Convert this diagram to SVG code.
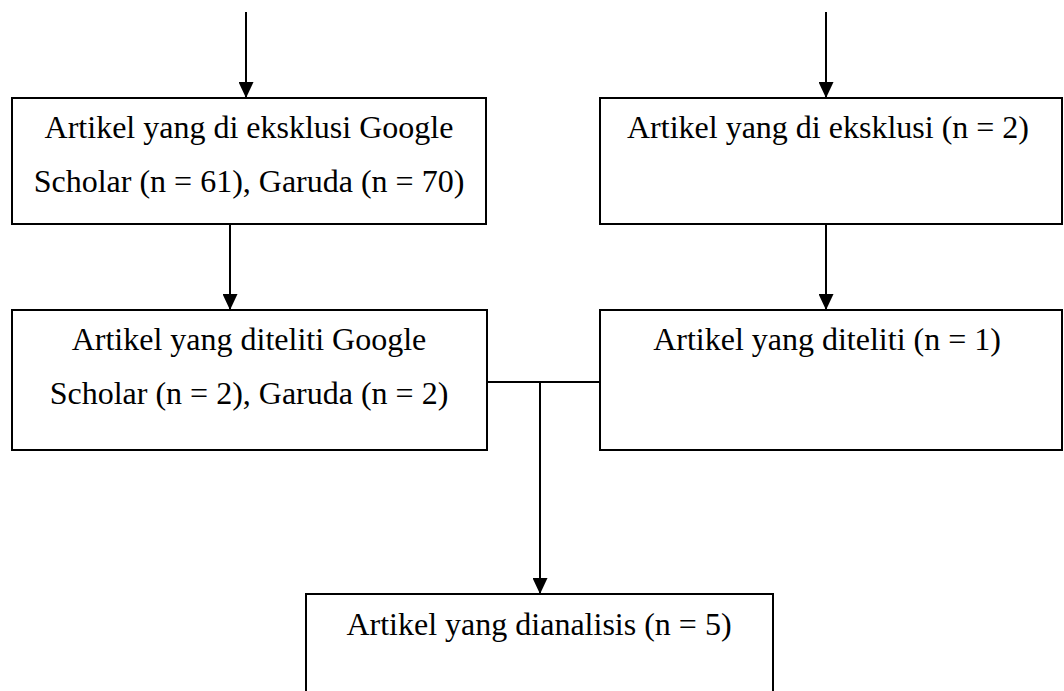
<svg xmlns="http://www.w3.org/2000/svg" width="1064" height="691" viewBox="0 0 1064 691">
<style>
.box{fill:#fff;stroke:#000;stroke-width:2}
.t{font-family:"Liberation Serif","Times New Roman",serif;font-size:32px;fill:#000;text-anchor:middle}
.c{fill:none;stroke:#000;stroke-width:2}
</style>
<defs>
<marker id="ah" markerUnits="userSpaceOnUse" markerWidth="16" markerHeight="15" refX="16" refY="7.5" orient="auto" viewBox="0 0 16 15">
<path d="M0,0 L16,7.5 L0,15 z" fill="#000"/>
</marker>
</defs>
<rect width="1064" height="691" fill="#fff"/>
<g id="connectors">
<line class="c" x1="246" y1="12" x2="246" y2="98" marker-end="url(#ah)"/>
<line class="c" x1="826" y1="12" x2="826" y2="98" marker-end="url(#ah)"/>
<line class="c" x1="230" y1="224" x2="230" y2="310" marker-end="url(#ah)"/>
<line class="c" x1="826" y1="224" x2="826" y2="310" marker-end="url(#ah)"/>
<line class="c" x1="487" y1="382" x2="600" y2="382"/>
<line class="c" x1="540" y1="382" x2="540" y2="594" marker-end="url(#ah)"/>
</g>
<g id="excl-left">
<rect class="box" x="12" y="98" width="474" height="126"/>
<text class="t" x="249" y="138">Artikel yang di eksklusi Google</text>
<text class="t" x="249" y="192">Scholar (n = 61), Garuda (n = 70)</text>
</g>
<g id="excl-right">
<rect class="box" x="600" y="98" width="462" height="126"/>
<text class="t" x="828" y="138">Artikel yang di eksklusi (n = 2)</text>
</g>
<g id="teliti-left">
<rect class="box" x="12" y="310" width="475" height="140"/>
<text class="t" x="249" y="350">Artikel yang diteliti Google</text>
<text class="t" x="249" y="404">Scholar (n = 2), Garuda (n = 2)</text>
</g>
<g id="teliti-right">
<rect class="box" x="600" y="310" width="462" height="140"/>
<text class="t" x="827" y="350">Artikel yang diteliti (n = 1)</text>
</g>
<g id="analisis">
<rect class="box" x="306" y="594" width="467" height="120"/>
<text class="t" x="539" y="635">Artikel yang dianalisis (n = 5)</text>
</g>
</svg>
